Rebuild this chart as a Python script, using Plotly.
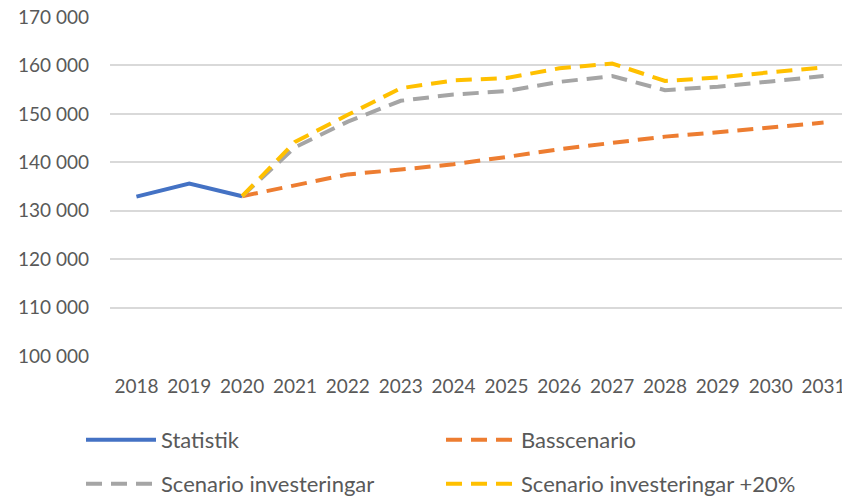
import plotly.graph_objects as go

years = list(range(2018, 2032))
year_labels = [str(y) for y in years]

statistik_years = [2018, 2019, 2020]
statistik = [132900, 135600, 133000]

scen_years = list(range(2020, 2032))
basscenario = [133000, 135300, 137500, 138500, 139600, 141100, 142700, 144000, 145300, 146200, 147200, 148200]
scenario_inv = [133000, 143100, 148400, 152700, 154000, 154700, 156600, 157800, 154900, 155600, 156700, 157800]
scenario_inv20 = [133000, 144200, 149800, 155300, 156900, 157400, 159400, 160400, 156800, 157500, 158600, 159600]

y_ticks = [100000, 110000, 120000, 130000, 140000, 150000, 160000, 170000]

FONT = "Lato"
TXT = "#595959"
DASH = "16px,9px"

fig = go.Figure()
fig.add_trace(go.Scatter(x=statistik_years, y=statistik, mode="lines", name="Statistik",
                         line=dict(color="#4472C4", width=4), legend="legend", showlegend=True))
fig.add_trace(go.Scatter(x=scen_years, y=basscenario, mode="lines", name="Basscenario",
                         line=dict(color="#ED7D31", width=4, dash=DASH), legend="legend2", showlegend=True))
fig.add_trace(go.Scatter(x=scen_years, y=scenario_inv, mode="lines", name="Scenario investeringar",
                         line=dict(color="#A5A5A5", width=4, dash=DASH), legend="legend3", showlegend=True))
fig.add_trace(go.Scatter(x=scen_years, y=scenario_inv20, mode="lines", name="Scenario investeringar +20%",
                         line=dict(color="#FFC000", width=4, dash=DASH), legend="legend4", showlegend=True))

# page has an 8px body margin: figure is sized to the visible area
W, H = 842, 489
L, T, B = 102, 9, 141
PW = W - L
PH = H - T - B

def leg(px_left, py_center):
    return dict(orientation="h", xanchor="left", yanchor="middle",
                x=(px_left - L) / PW, y=(H - B - py_center) / PH,
                font=dict(family=FONT, size=22, color=TXT), bgcolor="rgba(0,0,0,0)",
                itemwidth=70)

fig.update_layout(
    width=W, height=H,
    margin=dict(l=L, r=0, t=T, b=B, autoexpand=False),
    paper_bgcolor="white", plot_bgcolor="white",
    separators=", ",
    showlegend=True,
    font=dict(family=FONT, size=19, color=TXT),
    legend=leg(73, 432),
    legend2=leg(433, 432),
    legend3=leg(73, 476),
    legend4=leg(433, 476),
    xaxis=dict(range=[2017.5, 2031.5], tickvals=years, ticktext=year_labels,
               showgrid=False, zeroline=False, showline=False, ticks="", automargin=False,
               ticklabeloverflow="allow",
               ticklabelstandoff=17, tickfont=dict(family=FONT, size=19, color=TXT)),
    yaxis=dict(range=[99999, 170001], tickvals=y_ticks, tickformat=",d", automargin=False,
               showgrid=True, gridcolor="#D9D9D9", gridwidth=1.5, zeroline=False,
               showline=False, ticks="", ticklabelstandoff=20, ticklabeloverflow="allow",
               tickfont=dict(family=FONT, size=19, color=TXT)),
)

fig.write_html("out.html")
